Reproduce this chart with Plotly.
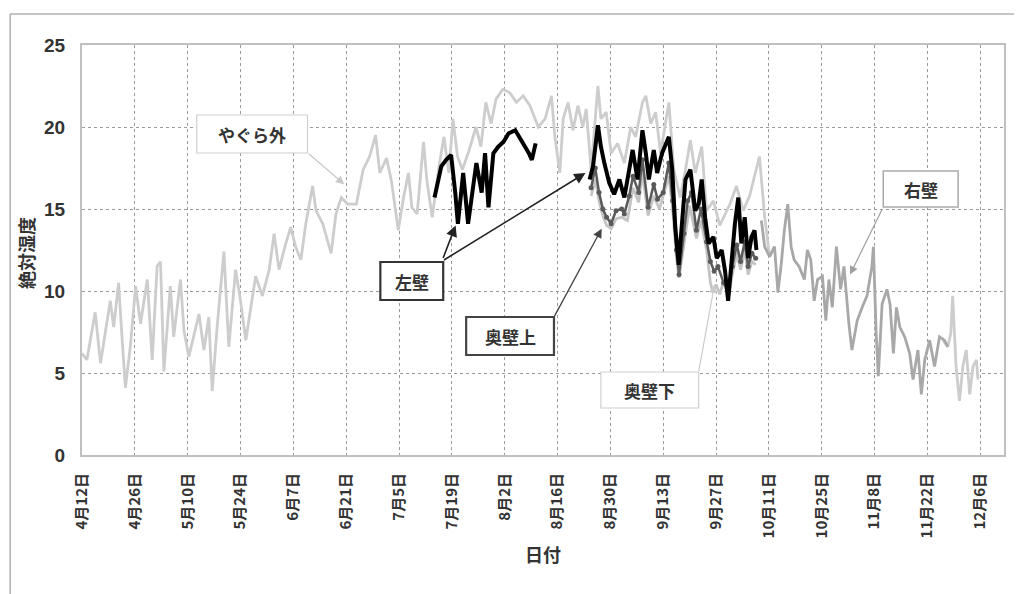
import plotly.graph_objects as go

# ---- data: days counted from 4月12日, absolute humidity values ----
tick_days = [0, 14, 28, 42, 56, 70, 84, 98, 112, 126, 140, 154, 168, 182, 196, 210, 224, 238]
tick_labels = ["4月12日", "4月26日", "5月10日", "5月24日", "6月7日", "6月21日", "7月5日",
               "7月19日", "8月2日", "8月16日", "8月30日", "9月13日", "9月27日", "10月11日",
               "10月25日", "11月8日", "11月22日", "12月6日"]

# やぐら外 (outside)
outside_day = [0, 1.3, 2.2, 3.5, 4.9, 6.2, 7.5, 8.4, 9.7, 10.6, 11.5, 12.8, 14.2, 15.5, 17.3,
               18.6, 19.9, 20.8, 21.7, 23.4, 24.3, 26.1, 27.0, 28.3, 29.6, 31.0, 32.3, 33.6,
               34.5, 35.8, 37.6, 38.9, 40.7, 42.0, 43.4, 44.7, 46.0, 47.8, 49.6, 50.9, 52.2,
               54.0, 55.3, 56.6, 58.0, 59.3, 61.1, 62.0, 63.8, 66.0, 67.3, 68.7, 70.4, 72.7,
               74.5, 76.2, 77.8, 78.9, 80.7, 82.0, 83.0, 83.8, 85.2, 86.5, 87.4, 88.8, 90.5,
               91.4, 92.8, 94.6, 95.9, 97.2, 98.3, 99.5, 100.8, 102.6, 104.4, 105.7, 107.0,
               108.4, 109.7, 111.5, 113.3, 115.1, 116.9, 118.7, 120.9, 122.7, 124.4, 125.3,
               126.6, 127.5, 128.8, 130.1, 131.4, 132.7, 133.6, 134.9, 136.7, 137.5, 138.9,
               140.2, 141.9, 143.7, 145.4, 146.7, 148.5, 149.4, 150.7, 152.0, 153.3, 155.5,
               156.8, 158.5, 159.9, 161.2, 162.5, 164.2, 165.5, 167.3, 169.0, 171.7, 173.4,
               175.2, 176.9, 179.5, 180.9, 182.2, 183.5, None,
               228.1, 229.4, 230.2, 230.7, 231.6, 232.5, 233.4, 234.3, 235.2, 236.1, 237.0, 237.4]
outside_val = [6.2, 5.8, 7.0, 8.7, 5.6, 7.6, 9.4, 7.8, 10.5, 7.2, 4.1, 6.6, 10.3, 8.0, 10.7,
               5.8, 11.5, 11.8, 5.1, 10.3, 7.2, 10.7, 7.6, 6.0, 7.2, 8.6, 6.4, 8.4,
               3.9, 7.8, 12.4, 6.6, 11.3, 9.4, 7.0, 9.0, 10.9, 9.7, 11.3, 13.5, 11.3,
               12.9, 13.9, 12.7, 11.9, 14.1, 16.4, 14.9, 14.1, 12.3, 14.7, 15.7, 15.3, 15.3,
               17.4, 18.2, 19.5, 17.2, 18.1, 16.7, 14.9, 13.7, 15.7, 17.2, 15.1, 14.7, 19.1,
               16.7, 14.5, 17.6, 19.4, 17.2, 20.5, 18.2, 17.4, 18.6, 20.0, 18.8, 21.5,
               20.2, 21.7, 22.3, 22.1, 21.5, 21.9, 21.3, 20.0, 20.5, 21.9, 19.4,
               17.2, 20.5, 21.5, 19.8, 21.3, 20.0, 21.1, 17.4, 22.5, 20.5, 20.9,
               18.4, 19.0, 17.8, 20.0, 19.4, 21.5, 21.9, 20.2, 20.9, 18.4, 21.5,
               17.4, 15.7, 17.4, 19.2, 17.2, 18.8, 14.9, 15.5, 14.0, 15.3, 16.4,
               14.9, 15.8, 18.2, 14.5, 12.1, 12.7, None,
               7.0, 6.6, 7.4, 9.7, 5.4, 3.3, 5.4, 6.4, 3.7, 5.4, 5.8, 4.6]

# 左壁 (left wall), two logging periods
left_day = [93.4, 95.2, 96.5, 97.8, 98.9, 99.6, 101.0, 102.3, 103.6, 104.5, 105.9, 106.8,
            107.7, 109.0, 110.3, 111.7, 113.0, 114.8, 116.1, 117.5, 118.4, 119.2, 120.2, None,
            134.5, 135.4, 136.7, 137.5, 138.4, 139.7, 141.0, 142.4, 143.7, 145.0, 145.9,
            147.2, 148.5, 149.4, 150.2, 151.5, 152.4, 153.7, 155.5, 156.4, 157.2, 158.1,
            159.0, 159.9, 161.2, 162.5, 163.4, 164.2, 165.1, 166.0, 167.3, 168.2, 169.5,
            170.4, 171.2, 172.1, 173.0, 173.9, 174.7, 175.6, 176.5, 177.4, 178.2, 178.7]
left_val = [15.7, 17.6, 18.0, 18.3, 16.0, 14.1, 17.2, 14.1, 16.3, 17.8, 16.0, 18.4,
            15.1, 18.4, 18.8, 19.1, 19.6, 19.8, 19.3, 18.8, 18.4, 18.0, 19.0, None,
            16.8, 17.6, 20.1, 18.8, 17.8, 16.6, 15.9, 16.8, 15.7, 17.6, 18.6,
            16.8, 19.8, 18.4, 16.8, 18.6, 17.2, 18.4, 19.4, 17.4, 13.9, 11.6,
            14.3, 16.8, 17.4, 14.9, 15.3, 16.8, 14.5, 12.9, 13.3, 12.0, 12.5,
            11.2, 9.4, 12.0, 14.1, 15.7, 12.9, 14.5, 12.0, 13.3, 13.7, 12.5]

# 奥壁上 (back wall, upper)
back_up_day = [134.9, 136.0, 137.0, 138.0, 139.0, 140.2, 141.5, 143.0, 143.7, 145.0, 146.0,
               147.5, 148.5, 150.0, 151.5, 152.5, 154.0, 155.5, 156.5, 157.5, 158.2, 159.5,
               160.5, 161.5, 162.8, 164.0, 165.5, 166.5, 167.5, 168.5, 170.0, 171.3, 172.3,
               173.5, 174.5, 175.6, 176.5, 177.5, 178.5]
back_up_val = [16.3, 17.5, 16.0, 15.0, 14.5, 14.1, 14.9, 15.0, 14.7, 15.8, 17.0,
               16.0, 18.0, 15.1, 16.5, 15.6, 16.0, 17.8, 15.5, 12.5, 11.0, 13.5,
               15.5, 16.0, 13.7, 15.0, 13.0, 11.8, 11.2, 11.5, 10.5, 10.0, 11.5,
               12.8, 11.8, 13.0, 11.5, 12.3, 12.0]

# 奥壁下 (back wall, lower)
back_low_day = [134.9, 136.0, 137.0, 138.0, 139.0, 140.2, 141.5, 143.0, 144.5, 146.0, 147.5,
                148.5, 150.0, 151.5, 153.0, 155.5, 156.5, 157.5, 158.2, 159.5, 161.0, 162.8,
                164.0, 165.5, 166.5, 167.2, 168.0, 169.0, 170.0, 171.3, 172.3, 173.5, 174.5,
                175.6, 176.5, 177.5, 178.5]
back_low_val = [15.8, 16.8, 15.5, 14.6, 14.0, 13.8, 14.4, 14.5, 14.3, 16.3, 15.4,
                17.2, 14.6, 15.8, 15.0, 17.0, 15.0, 12.0, 10.8, 13.0, 15.2, 13.2,
                14.3, 12.5, 10.5, 9.9, 10.4, 9.8, 10.6, 9.6, 11.0, 12.3, 11.3,
                12.5, 11.0, 11.8, 11.6]

# 右壁 (right wall)
right_day = [180.0, 180.9, 182.2, 183.5, 184.4, 185.3, 186.1, 187.0, 187.9, 188.7, 190.0,
             191.4, 192.2, 193.1, 194.0, 194.9, 196.2, 197.1, 197.9, 198.8, 199.9, 201.0,
             201.9, 203.2, 204.0, 205.4, 206.7, 208.0, 209.3, 209.7, 210.4, 211.0, 212.0,
             213.3, 214.1, 215.0, 215.8, 216.7, 218.0, 219.3, 220.2, 221.5, 222.4, 223.3,
             224.6, 225.9, 227.2, 228.5, 229.4]
right_val = [14.3, 12.7, 12.1, 12.7, 9.9, 11.7, 13.7, 15.3, 12.7, 11.9, 11.5,
             10.7, 12.5, 11.9, 9.4, 10.7, 10.9, 8.2, 10.7, 9.0, 12.7, 10.1,
             11.5, 8.0, 6.4, 8.2, 9.0, 9.7, 11.5, 12.7, 7.6, 4.8, 9.2,
             10.1, 9.2, 6.2, 9.0, 7.8, 7.2, 6.2, 4.6, 6.4, 3.7, 5.8,
             7.0, 5.4, 7.2, 7.0, 6.6]

FONT = "Noto Sans CJK JP"
W, H = 1016, 594
L, R, T, B = 82, 10, 45, 139      # plot area margins (px)
PW, PH = W - L - R, H - T - B


def px(x):
    return (x - L) / PW


def py(y):
    return (H - B - y) / PH


fig = go.Figure()

fig.add_trace(go.Scatter(x=outside_day, y=outside_val, mode="lines", name="やぐら外",
                         line=dict(color="#cdcdcd", width=2.8), connectgaps=False))
fig.add_trace(go.Scatter(x=back_low_day, y=back_low_val, mode="lines", name="奥壁下",
                         line=dict(color="#c4c4c4", width=2.8)))
fig.add_trace(go.Scatter(x=right_day, y=right_val, mode="lines", name="右壁",
                         line=dict(color="#a8a8a8", width=2.8)))
fig.add_trace(go.Scatter(x=back_up_day, y=back_up_val, mode="lines+markers", name="奥壁上",
                         line=dict(color="#5a5a5a", width=2.5),
                         marker=dict(color="#5a5a5a", size=5)))
fig.add_trace(go.Scatter(x=left_day, y=left_val, mode="lines", name="左壁",
                         line=dict(color="#000000", width=4), connectgaps=False))

# labelled boxes (drawn as rectangles) with their captions
boxes = [
    ("やぐら外", 197, 115, 308, 153, "#cfcfcf", 1.2),
    ("左壁", 381, 262, 444, 300, "#333333", 2.2),
    ("奥壁上", 467, 317, 555, 355, "#444444", 2.2),
    ("奥壁下", 602, 372, 700, 408, "#d0d0d0", 1.2),
    ("右壁", 885, 171, 960, 207, "#aaaaaa", 1.5),
]
for text, x0, y0, x1, y1, col, lw in boxes:
    fig.add_shape(type="rect", xref="paper", yref="paper",
                  x0=px(x0), x1=px(x1), y0=py(y1), y1=py(y0),
                  line=dict(color=col, width=lw), fillcolor="white", layer="above")
    fig.add_annotation(xref="paper", yref="paper", x=px((x0 + x1) / 2), y=py((y0 + y1) / 2),
                       xanchor="center", yanchor="middle",
                       text=f"<b>{text}</b>", showarrow=False,
                       font=dict(family=FONT, size=17, color="#333333"))

# arrows: head on the curve (data coords), tail at a box corner (pixel offsets)
arrows = [
    (69.5, 16.5, -37, -32, "#c8c8c8", 1.2),
    (99.0, 14.0, -13, 34, "#222222", 1.6),
    (133.4, 17.2, -143, 88, "#222222", 1.6),
    (137.7, 13.8, -48, 89, "#444444", 1.3),
    (167.6, 10.4, -16, 88, "#cccccc", 1.2),
    (203.5, 11.0, 33, -67, "#a0a0a0", 1.2),
]
for hx, hy, ax, ay, col, lw in arrows:
    fig.add_annotation(x=hx, y=hy, xref="x", yref="y", ax=ax, ay=ay,
                       axref="pixel", ayref="pixel", text="", showarrow=True,
                       arrowhead=2, arrowsize=1.4, arrowwidth=lw, arrowcolor=col)

# y-axis title
fig.add_annotation(xref="paper", yref="paper", x=px(26), y=py(253), text="<b>絶対湿度</b>",
                   xanchor="center", yanchor="middle",
                   textangle=-90, showarrow=False,
                   font=dict(family=FONT, size=18, color="#333333"))

# outer frame
fig.add_shape(type="line", xref="paper", yref="paper", x0=px(10), x1=px(10),
              y0=py(594), y1=py(14), line=dict(color="#b0b0b0", width=1.5))
fig.add_shape(type="line", xref="paper", yref="paper", x0=px(10), x1=px(1016),
              y0=py(14), y1=py(14), line=dict(color="#b0b0b0", width=1.5))

fig.update_layout(
    width=W, height=H,
    margin=dict(l=L, r=R, t=T, b=B),
    paper_bgcolor="white", plot_bgcolor="white",
    showlegend=False,
    font=dict(family=FONT, color="#333333"),
    xaxis=dict(range=[0, 244.3], tickmode="array", tickvals=tick_days, ticktext=tick_labels,
               tickangle=-90, tickfont=dict(family=FONT, size=15, color="#333333", weight="bold"),
               showgrid=True, gridcolor="#9a9a9a", griddash="dot", gridwidth=1,
               showline=True, linecolor="#c0c0c0", linewidth=2, mirror=True,
               zeroline=False, ticks="", ticklabelstandoff=10,
               title=dict(text="<b>日付</b>", font=dict(family=FONT, size=18, color="#333333"),
                          standoff=12)),
    yaxis=dict(range=[0, 25], tickvals=[0, 5, 10, 15, 20, 25],
               tickfont=dict(family="Liberation Sans", size=19, color="#333333", weight="bold"),
               showgrid=True, gridcolor="#9a9a9a", griddash="3px,3px", gridwidth=1,
               showline=True, linecolor="#c0c0c0", linewidth=2, mirror=True,
               zeroline=False, ticks="", ticklabelstandoff=11),
)

fig.write_html("out.html")
